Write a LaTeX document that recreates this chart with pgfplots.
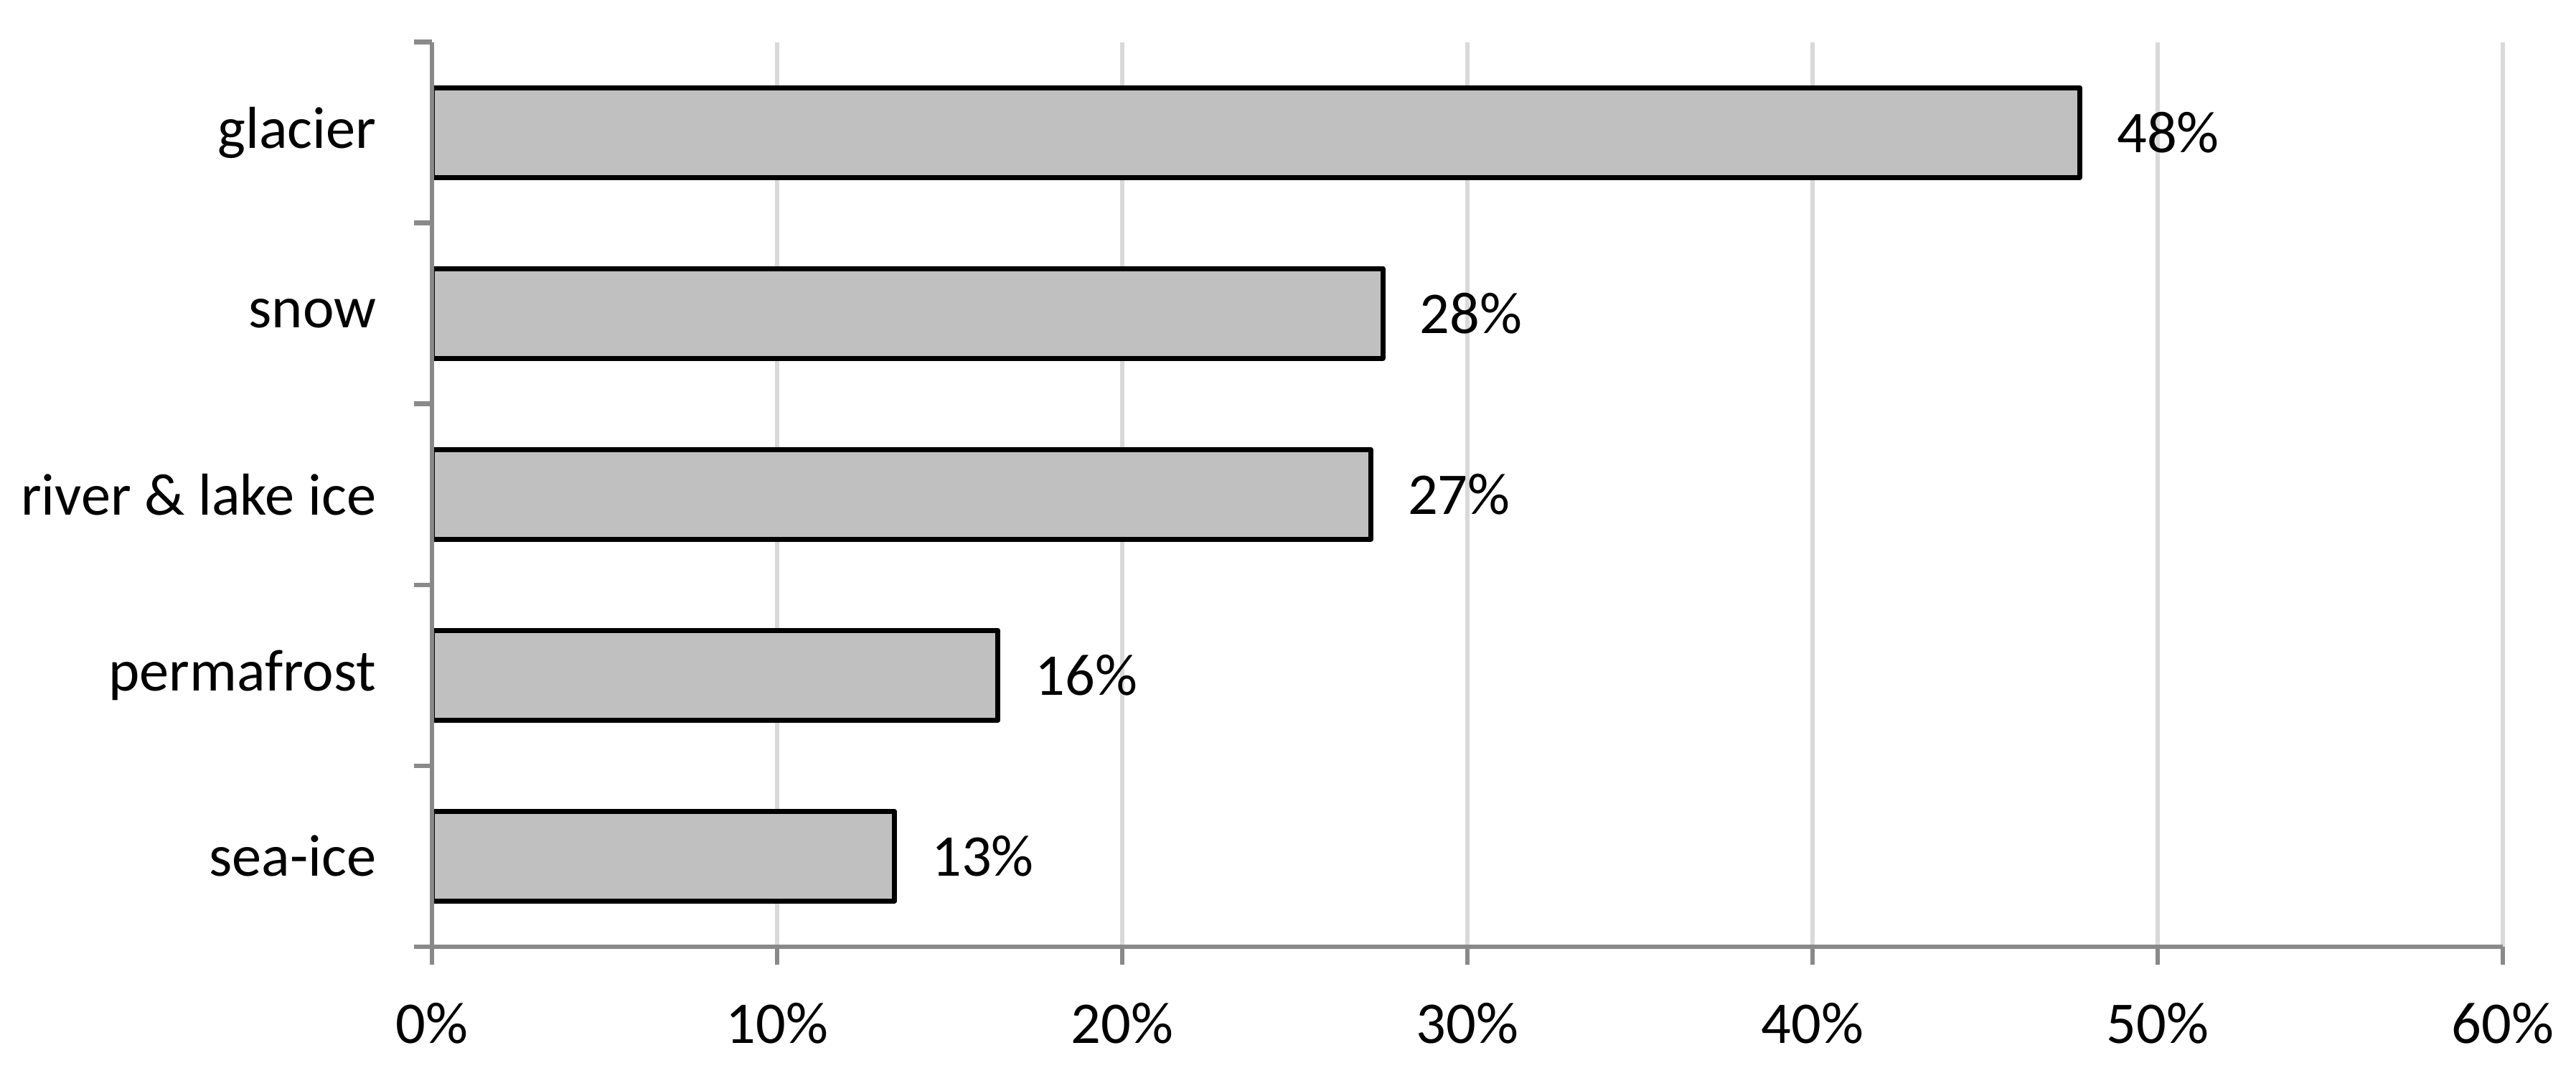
\documentclass[border=0pt]{standalone}
\usepackage{fontspec}
\setmainfont{Carlito}
\usepackage{pgfplots}
\pgfplotsset{compat=1.18}

\definecolor{axisgray}{HTML}{898989}
\definecolor{gridgray}{HTML}{D9D9D9}
\definecolor{barfill}{HTML}{C0C0C0}

\pgfplotstableread{
y  share
0  13.4
1  16.4
2  27.2
3  27.55
4  47.75
}\cryo

\begin{document}
\begin{tikzpicture}
  \useasboundingbox (0,0) rectangle (784pt,330.4pt);
  \begin{axis}[
    at={(131.5pt,42.4pt)}, anchor=south west,
    scale only axis,
    width=630.2pt, height=275.2pt,
    xbar, bar width=27.3pt,
    xmin=0, xmax=60,
    ymin=-0.5, ymax=4.5,
    xtick={0,10,...,60},
    xticklabels={0\%,10\%,20\%,30\%,40\%,50\%,60\%},
    ytick={-0.5,0.5,1.5,2.5,3.5,4.5},
    y tick label as interval,
    yticklabels={sea-ice,permafrost,river \& lake ice,snow,glacier},
    axis lines=left,
    axis line style={-, draw=axisgray, line width=1.4pt},
    tick align=outside,
    major tick length=5.5pt,
    tick style={draw=axisgray, line width=1.4pt},
    xmajorgrids,
    grid style={draw=gridgray, line width=1.4pt},
    tick label style={font=\fontsize{18}{22}\selectfont},
    xticklabel style={yshift=-8pt},
    yticklabel style={xshift=-8pt},
    /pgf/number format/assume math mode=true,
    nodes near coords={\pgfmathprintnumber[fixed,precision=0]{\pgfplotspointmeta}\%},
    nodes near coords style={font=\fontsize{18}{22}\selectfont, anchor=west, xshift=7.2pt},
    clip=false,
  ]
    \addplot[fill=barfill, draw=black, line width=1.5pt, line join=round]
      table[x=share, y=y] {\cryo};
    \draw[axisgray, line width=1.4pt] (axis cs:0,-0.5) -- (axis cs:0,4.5);
  \end{axis}
\end{tikzpicture}
\end{document}
